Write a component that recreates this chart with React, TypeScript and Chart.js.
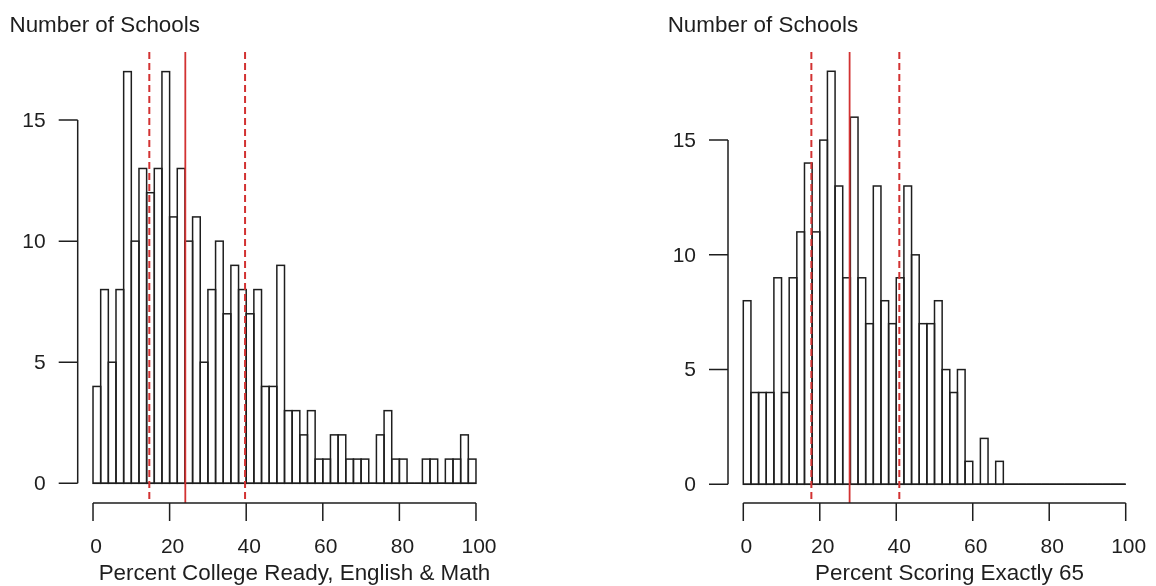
import React, { useEffect, useRef } from "react";
import { Chart, registerables } from "chart.js";

Chart.register(...registerables);

// ---- data ----
const BIN_WIDTH = 2;
const leftCounts = [4, 8, 5, 8, 17, 10, 13, 12, 13, 17, 11, 13, 10, 11, 5, 8, 10, 7, 9, 8, 7, 8, 4, 4, 9, 3, 3, 2, 3, 1, 1, 2, 2, 1, 1, 1, 0, 2, 3, 1, 1, 0, 0, 1, 1, 0, 1, 1, 2, 1];
const rightCounts = [8, 4, 4, 4, 9, 4, 9, 11, 14, 11, 15, 18, 13, 9, 16, 9, 7, 13, 8, 7, 9, 13, 10, 7, 7, 8, 5, 4, 5, 1, 0, 2, 0, 1, 0, 0, 0, 0, 0, 0, 0, 0, 0, 0, 0, 0, 0, 0, 0, 0];
const leftRefLines = [14.7, 24.1, 39.7];
const rightRefLines = [17.8, 27.8, 40.8];
const refLineDashed = [true, false, true];
const xTicks = [0, 20, 40, 60, 80, 100];
const yTicks = [0, 5, 10, 15];
const yTitle = "Number of Schools";
const leftXTitle = "Percent College Ready, English & Math";
const rightXTitle = "Percent Scoring Exactly 65";

const INK = "#1e1e1e";
const RED = "#d23232";
const FONT = '"Liberation Sans", Arial, sans-serif';

type PanelCfg = {
  counts: number[];
  refLines: number[];
  xTitle: string;
  yMin: number;
  yMax: number;
  padding: { left: number; right: number; top: number; bottom: number };
  yTitleX: number;
  xTitleShift: number;
};

const histPlugin = {
  id: "histAxes",
  afterDatasetsDraw(chart: any, _args: any, opts: any) {
    const { ctx, chartArea, scales } = chart;
    const xs = scales.x;
    const ys = scales.y;
    const cfg: PanelCfg = opts.cfg;
    ctx.save();

    // bar outlines (R-style rect borders centred on the edges)
    ctx.strokeStyle = INK;
    ctx.lineWidth = 1.5;
    const meta = chart.getDatasetMeta(0);
    meta.data.forEach((el: any) => {
      const p = el.getProps(["x", "y", "base", "width"], true);
      const l = p.x - p.width / 2;
      ctx.strokeRect(l, Math.min(p.y, p.base), p.width, Math.abs(p.base - p.y));
    });

    // baseline
    ctx.beginPath();
    ctx.moveTo(xs.getPixelForValue(xTicks[0]), ys.getPixelForValue(0));
    ctx.lineTo(xs.getPixelForValue(xTicks[xTicks.length - 1]), ys.getPixelForValue(0));
    ctx.stroke();

    // reference lines
    cfg.refLines.forEach((v, i) => {
      const px = xs.getPixelForValue(v);
      ctx.strokeStyle = RED;
      ctx.lineWidth = refLineDashed[i] ? 2 : 1.8;
      ctx.setLineDash(refLineDashed[i] ? [7, 4] : []);
      ctx.beginPath();
      ctx.moveTo(px, chartArea.top);
      ctx.lineTo(px, chartArea.bottom);
      ctx.stroke();
    });
    ctx.setLineDash([]);

    // y axis
    ctx.strokeStyle = INK;
    ctx.lineWidth = 1.5;
    const ax = chartArea.left;
    ctx.beginPath();
    ctx.moveTo(ax, ys.getPixelForValue(yTicks[0]));
    ctx.lineTo(ax, ys.getPixelForValue(yTicks[yTicks.length - 1]));
    yTicks.forEach((t) => {
      const py = ys.getPixelForValue(t);
      ctx.moveTo(ax - 19, py);
      ctx.lineTo(ax, py);
    });
    ctx.stroke();
    ctx.fillStyle = INK;
    ctx.font = `21px ${FONT}`;
    ctx.textAlign = "right";
    ctx.textBaseline = "middle";
    yTicks.forEach((t) => {
      ctx.fillText(String(t), ax - 32, ys.getPixelForValue(t) + 1);
    });

    // x axis
    const ay = chartArea.bottom;
    ctx.beginPath();
    ctx.moveTo(xs.getPixelForValue(xTicks[0]), ay);
    ctx.lineTo(xs.getPixelForValue(xTicks[xTicks.length - 1]), ay);
    xTicks.forEach((t) => {
      const px = xs.getPixelForValue(t);
      ctx.moveTo(px, ay);
      ctx.lineTo(px, ay + 18);
    });
    ctx.stroke();
    ctx.textAlign = "center";
    ctx.textBaseline = "alphabetic";
    xTicks.forEach((t) => {
      ctx.fillText(String(t), xs.getPixelForValue(t) + 3, ay + 50);
    });

    // x title
    ctx.font = `22.4px ${FONT}`;
    const cx = (xs.getPixelForValue(xTicks[0]) + xs.getPixelForValue(xTicks[xTicks.length - 1])) / 2;
    ctx.fillText(cfg.xTitle, cx + cfg.xTitleShift, ay + 77);

    // y title
    ctx.textAlign = "left";
    ctx.fillText(yTitle, cfg.yTitleX, 32);
    ctx.restore();
  },
};

function Histogram({ cfg, left }: { cfg: PanelCfg; left: number }) {
  const ref = useRef<HTMLCanvasElement | null>(null);
  useEffect(() => {
    if (!ref.current) return;
    const centers = cfg.counts.map((_, i) => i * BIN_WIDTH + BIN_WIDTH / 2);
    const chart = new Chart(ref.current, {
      type: "bar",
      data: {
        datasets: [
          {
            data: cfg.counts.map((c, i) => ({ x: centers[i], y: c })),
            backgroundColor: "#ffffff",
            borderWidth: 0,
            barPercentage: 1,
            categoryPercentage: 1,
            grouped: false,
          } as any,
        ],
      },
      options: {
        responsive: false,
        animation: false,
        devicePixelRatio: 1,
        layout: { padding: cfg.padding },
        plugins: {
          legend: { display: false },
          tooltip: { enabled: false },
          histAxes: { cfg },
        } as any,
        scales: {
          x: { type: "linear", min: -4, max: 104, offset: false, display: false },
          y: { type: "linear", min: cfg.yMin, max: cfg.yMax, display: false },
        },
      },
      plugins: [histPlugin as any],
    });
    return () => chart.destroy();
  }, [cfg]);
  return (
    <canvas
      ref={ref}
      width={578}
      height={586}
      style={{ position: "absolute", left, top: 0, width: 578, height: 586 }}
    />
  );
}

const leftCfg: PanelCfg = {
  counts: leftCounts,
  refLines: leftRefLines,
  xTitle: leftXTitle,
  yMin: -0.813,
  yMax: 17.81,
  padding: { left: 77.7, right: 86.7, top: 52, bottom: 83 },
  yTitleX: 9.5,
  xTitleShift: 10,
};

const rightCfg: PanelCfg = {
  counts: rightCounts,
  refLines: rightRefLines,
  xTitle: rightXTitle,
  yMin: -0.815,
  yMax: 18.84,
  padding: { left: 150, right: 15, top: 52, bottom: 83 },
  yTitleX: 89.7,
  xTitleShift: 15,
};

export default function App() {
  return (
    <div style={{ position: "fixed", left: 0, top: 0, width: 1156, height: 586, background: "#fff" }}>
      <Histogram cfg={leftCfg} left={0} />
      <Histogram cfg={rightCfg} left={578} />
    </div>
  );
}
